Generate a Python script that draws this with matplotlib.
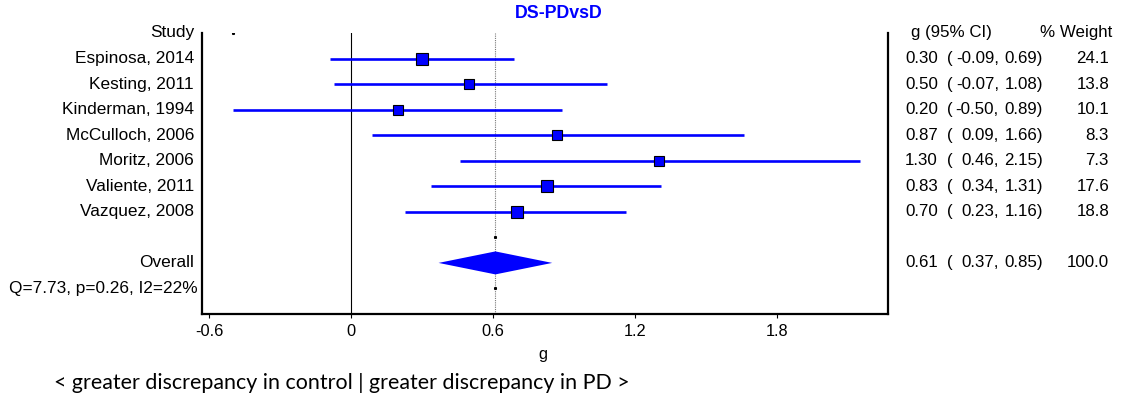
import matplotlib.pyplot as plt
import matplotlib.transforms as mtransforms
import numpy as np

# study-level effect sizes (Hedges g) with 95% CI and % weight
studies = ["Espinosa, 2014", "Kesting, 2011", "Kinderman, 1994", "McCulloch, 2006",
           "Moritz, 2006", "Valiente, 2011", "Vazquez, 2008"]
g_vals = [0.30, 0.50, 0.20, 0.87, 1.30, 0.83, 0.70]
ci_low = [-0.09, -0.07, -0.50, 0.09, 0.46, 0.34, 0.23]
ci_high = [0.69, 1.08, 0.89, 1.66, 2.15, 1.31, 1.16]
weights = [24.1, 13.8, 10.1, 8.3, 7.3, 17.6, 18.8]

# pooled estimate
overall_g = 0.61
overall_low = 0.37
overall_high = 0.85
overall_weight = 100.0
heterogeneity = "Q=7.73, p=0.26, I2=22%"

xticks = [-0.6, 0, 0.6, 1.2, 1.8]
xtick_labels = ["-0.6", "0", "0.6", "1.2", "1.8"]

W, H = 1121, 403
BLUE = "#0000FF"
FONT = "Liberation Sans"
NARROW = ["Liberation Sans Narrow", "Liberation Sans"]

fig = plt.figure(figsize=(W / 100, H / 100), dpi=100)

# plot region in pixel coordinates
left_px, right_px, top_px, bottom_px = 202, 888, 33, 314
ax = fig.add_axes([left_px / W, (H - bottom_px) / H,
                   (right_px - left_px) / W, (bottom_px - top_px) / H])

x0 = 0 - (351 - left_px) / 236.7
x1 = (right_px - 351) / 236.7
ax.set_xlim(x0, x1)
ax.set_ylim(11, 0)

rows = np.arange(1, len(studies) + 1)
overall_row = len(studies) + 2
q_row = overall_row + 1

# reference lines
ax.axvline(0, color="black", lw=0.8, zorder=1)
ax.axvline(overall_g, color="#777777", lw=0.8, ls=(0, (1, 1)), zorder=1)

# confidence intervals and weighted squares
ax.hlines(rows, ci_low, ci_high, color=BLUE, lw=1.9, zorder=2)
for r, g, w in zip(rows, g_vals, weights):
    side_px = 8 + 0.18 * w
    ax.plot(g, r, marker="s", ms=side_px * 0.72, mfc=BLUE, mec="black",
            mew=0.8, zorder=3)

# pooled diamond
half_h = 0.45
ax.fill([overall_low, overall_g, overall_high, overall_g],
        [overall_row, overall_row - half_h, overall_row, overall_row + half_h],
        color=BLUE, lw=0, zorder=3)
ax.plot([overall_g, overall_g], [overall_row - 1, q_row], ls="none",
        marker="s", ms=1.2, color="black", zorder=2)
ax.plot(-0.5, 0, ls="none", marker="s", ms=1.2, color="black")

# spines and ticks
ax.spines["top"].set_visible(False)
for s in ["left", "right", "bottom"]:
    ax.spines[s].set_linewidth(1.6)
ax.set_yticks([])
ax.set_xticks(xticks)
ax.set_xticklabels(xtick_labels, fontsize=11.8, family=FONT)
ax.tick_params(axis="x", direction="out", length=3, width=0.8, pad=4)

fig.text(543 / W, 1 - 354 / H, "g", fontsize=11.8, family=FONT,
         ha="center", va="center")

# left column: study names
lab = mtransforms.blended_transform_factory(fig.transFigure, ax.transData)
lab_x = 194 / W
ax.text(lab_x, 0, "Study", transform=lab, ha="right", va="center",
        fontsize=12.4, family=FONT)
for r, name in zip(rows, studies):
    ax.text(lab_x, r, name, transform=lab, ha="right", va="center",
            fontsize=12.4, family=FONT)
ax.text(lab_x, overall_row, "Overall", transform=lab, ha="right",
        va="center", fontsize=12.4, family=FONT)
ax.text(198 / W, q_row, heterogeneity, transform=lab, ha="right",
        va="center", fontsize=12.4, family=FONT)

# right column: estimates and weights
fs_r = 12.2
ax.text(911 / W, 0, "g (95% CI)", transform=lab, ha="left", va="center",
        fontsize=fs_r, family=NARROW)
ax.text(1112 / W, 0, "% Weight", transform=lab, ha="right", va="center",
        fontsize=fs_r, family=NARROW)


def stats_row(r, g, lo, hi, w):
    kw = dict(transform=lab, va="center", fontsize=fs_r, family=NARROW)
    ax.text(905 / W, r, f"{g:.2f}", ha="left", **kw)
    ax.text(947 / W, r, "(", ha="left", **kw)
    ax.text(999 / W, r, f"{lo:.2f},", ha="right", **kw)
    ax.text(1043 / W, r, f"{hi:.2f})", ha="right", **kw)
    ax.text(1109 / W, r, f"{w:.1f}", ha="right", **kw)


for r, g, lo, hi, w in zip(rows, g_vals, ci_low, ci_high, weights):
    stats_row(r, g, lo, hi, w)
stats_row(overall_row, overall_g, overall_low, overall_high, overall_weight)

# title
fig.text(559 / W, 1 - 13 / H, "DS-PDvsD", color=BLUE, fontsize=12.8,
         fontweight="bold", family=FONT, ha="center", va="center")

# direction note
fig.text(54 / W, 1 - 383 / H,
         "< greater discrepancy in control | greater discrepancy in PD >",
         fontsize=15.4, family="Lato", ha="left", va="center")

fig.savefig("out.png", dpi=100)
